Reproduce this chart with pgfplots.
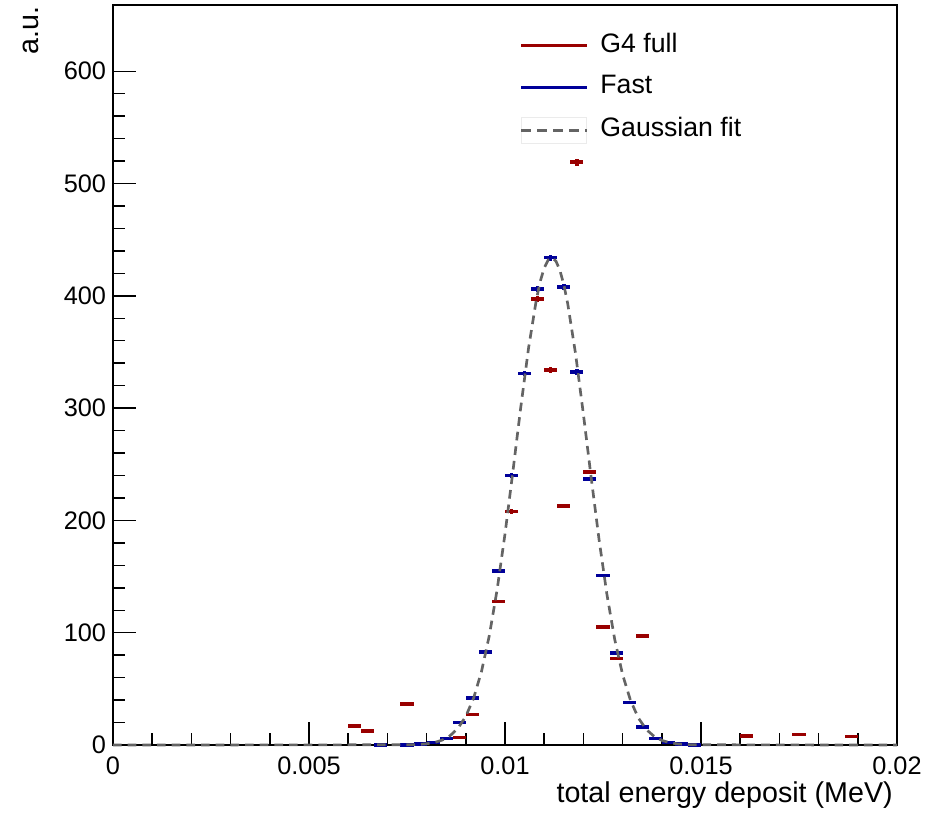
\documentclass[border=0pt]{standalone}
\usepackage{fontspec}
\setmainfont{Liberation Sans}
\usepackage{pgfplots}
\pgfplotsset{compat=1.18}
\definecolor{g4red}{RGB}{153,0,0}
\definecolor{fastblue}{RGB}{0,0,153}
\definecolor{fitgray}{RGB}{100,100,100}

% G4 full histogram: bin centre, content, error
\pgfplotstableread{
x y ey
0.0061667 17 0.6
0.0065 12.5 0.5
0.0075 36.5 0.8
0.0088333 6.5 0.4
0.0091667 27 0.7
0.0098333 128 1.5
0.0101667 208 1.9
0.0108333 397 2.6
0.0111667 334 2.4
0.0115 213 1.9
0.0118333 519 3.0
0.0121667 243 2.0
0.0125 105 1.3
0.0128333 77 1.1
0.0135 97 1.3
0.0161667 8 0.4
0.0175 9.5 0.4
0.0188333 7.5 0.4
}\fullsim

% Fast simulation histogram
\pgfplotstableread{
x y ey
0.0068333 0 0
0.0075 0 0
0.0078333 1 0.2
0.0081667 2 0.2
0.0085 6 0.3
0.0088333 20 0.6
0.0091667 42 0.8
0.0095 83 1.2
0.0098333 155 1.6
0.0101667 240 2.0
0.0105 331 2.4
0.0108333 406 2.6
0.0111667 434 2.7
0.0115 408 2.6
0.0118333 332 2.4
0.0121667 237 2.0
0.0125 151 1.6
0.0128333 82 1.2
0.0131667 38 0.8
0.0135 16 0.5
0.0138333 6 0.3
0.0141667 2 0.2
0.0145 1 0.2
0.0148333 0 0
}\fastsim

% Gaussian fit curve
\pgfplotstableread{
x y
0 0
0.0076 0.2
0.0078 0.5
0.0080 1.1
0.0082 2.2
0.0084 4.4
0.0086 8.3
0.0088 14.9
0.0090 25.5
0.0092 41.8
0.0094 65.4
0.0096 97.5
0.0098 138.6
0.0100 188.0
0.0102 243.2
0.0104 300.2
0.0106 353.3
0.0108 396.7
0.0109 413.0
0.0110 424.8
0.0111 431.9
0.0112 434.0
0.0113 430.9
0.0114 422.8
0.0115 410.0
0.0116 393.0
0.0118 348.4
0.0120 294.6
0.0122 237.6
0.0124 182.8
0.0126 134.1
0.0128 93.8
0.0130 62.7
0.0132 39.9
0.0134 24.2
0.0136 14.0
0.0138 7.8
0.0140 4.1
0.0142 2.1
0.0144 1.0
0.0146 0.5
0.0148 0.2
0.0200 0
}\gausfit

\begin{document}
\begin{tikzpicture}
\begin{axis}[
  scale only axis,
  width=588pt, height=555pt,
  xmin=0, xmax=0.02, ymin=0, ymax=659,
  clip=false,
  xtick={0,0.005,0.01,0.015,0.02},
  xticklabels={0,0.005,0.01,0.015,0.02},
  scaled x ticks=false,
  ytick={0,100,...,600},
  minor x tick num=4,
  minor y tick num=4,
  tick pos=left, tick align=inside,
  major tick length=17pt, minor tick length=9pt,
  every tick/.style={black, line width=1.1pt},
  axis line style={line width=1.1pt},
  /pgf/number format/assume math mode=true,
  ticklabel style={font=\fontsize{19}{22}\selectfont},
  yticklabel style={inner sep=0pt, xshift=-5pt},
  xticklabel style={inner sep=0pt, yshift=-9pt},
  xlabel={total energy deposit (MeV)},
  ylabel={a.u.},
  label style={font=\fontsize{21.5}{25}\selectfont},
  xlabel style={at={(axis description cs:1,0)}, anchor=north east, inner sep=0pt, yshift=-27pt, xshift=-3pt},
  ylabel style={at={(axis description cs:-0.0944,0.998)}, anchor=south east, inner sep=0pt},
  legend style={at={(axis description cs:0.519,0.961)}, anchor=north west,
    draw=none, fill=none, inner sep=0pt, outer sep=0pt,
    row sep=13pt, column sep=9pt,
    font=\fontsize{20}{24}\selectfont,
    nodes={inner sep=0pt, text height=14pt, text depth=4pt}},
  legend cell align=left,
]
\addlegendimage{legend image code/.code={\draw[g4red, line width=2.4pt] (0pt,0pt) -- (49pt,0pt);}}
\addlegendentry{G4 full}
\addlegendimage{legend image code/.code={\draw[fastblue, line width=2.4pt] (0pt,0pt) -- (49pt,0pt);}}
\addlegendentry{Fast}
\addlegendimage{legend image code/.code={
  \draw[black!8, line width=0.6pt] (0pt,-10pt) rectangle (49pt,10pt);
  \draw[fitgray, line width=2pt, dash pattern=on 7pt off 5pt] (0pt,0pt) -- (49pt,0pt);}}
\addlegendentry{Gaussian fit}

\addplot[forget plot, draw=none, mark=none,
  error bars/.cd, x dir=both, x fixed=0.00016667, y dir=both, y explicit,
  error mark=none, error bar style={draw=g4red, line width=2.6pt}]
  table[x=x, y=y, y error=ey] {\fullsim};

\addplot[forget plot, draw=none, mark=none,
  error bars/.cd, x dir=both, x fixed=0.00016667, y dir=both, y explicit,
  error mark=none, error bar style={draw=fastblue, line width=2.6pt}]
  table[x=x, y=y, y error=ey] {\fastsim};

\addplot[forget plot, fitgray, line width=2pt, dash pattern=on 6.5pt off 4.5pt]
  table[x=x, y=y] {\gausfit};
\end{axis}
\pgfresetboundingbox
\useasboundingbox (current axis.south west) ++(-84.75pt,-50.25pt) rectangle ([shift={(36pt,3.75pt)}]current axis.north east);
\end{tikzpicture}
\end{document}
